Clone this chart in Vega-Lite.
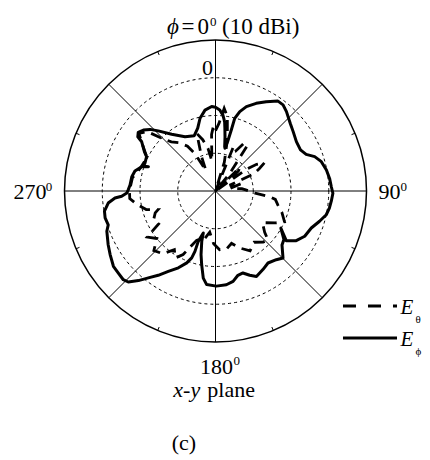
{
  "$schema": "https://vega.github.io/schema/vega-lite/v6.json",
  "width": 430,
  "height": 460,
  "padding": 0,
  "autosize": {"type": "none"},
  "background": "white",
  "config": {"view": {"stroke": null}},
  "datasets": {
    "rings": [{"dB": -20}, {"dB": -10}, {"dB": 0}],
    "outer": [{"dB": 10}],
    "spokes": [{"angle": 0}, {"angle": 45}, {"angle": 90}, {"angle": 135}, {"angle": 180}, {"angle": 225}, {"angle": 270}, {"angle": 315}],
    "ticks": [{"angle": 22.5}, {"angle": 67.5}, {"angle": 112.5}, {"angle": 157.5}, {"angle": 202.5}, {"angle": 247.5}, {"angle": 292.5}, {"angle": 337.5}],
    "legend": [{"pol": "theta"}, {"pol": "phi"}],
    "labels": [
      {"t": "ϕ", "ux": -9.67, "uy": 41.72, "fs": 23, "g": "ir"},
      {"t": "=", "ux": -7.28, "uy": 41.72, "fs": 23, "g": "nc"},
      {"t": "0", "ux": -1.72, "uy": 41.72, "fs": 23, "g": "nr"},
      {"t": "0", "ux": -1.46, "uy": 43.71, "fs": 13, "g": "nl"},
      {"t": "(10 dBi)", "ux": 1.72, "uy": 41.72, "fs": 23, "g": "nl"},
      {"t": "0", "ux": -0.66, "uy": 30.73, "fs": 22, "g": "nr"},
      {"t": "90", "ux": 43.18, "uy": -2.12, "fs": 22, "g": "nl"},
      {"t": "0", "ux": 49.01, "uy": 0.0, "fs": 13, "g": "nl"},
      {"t": "270", "ux": -53.51, "uy": -2.25, "fs": 22, "g": "nl"},
      {"t": "0", "ux": -44.98, "uy": -0.13, "fs": 13, "g": "nl"},
      {"t": "180", "ux": -4.11, "uy": -48.48, "fs": 22, "g": "nl"},
      {"t": "0", "ux": 4.77, "uy": -46.09, "fs": 13, "g": "nl"},
      {"t": "x-y", "ux": -11.18, "uy": -54.65, "fs": 22, "g": "il"},
      {"t": "plane", "ux": -2.17, "uy": -54.65, "fs": 22, "g": "nl"},
      {"t": "(c)", "ux": -11.6, "uy": -68.6, "fs": 22, "g": "nl"},
      {"t": "E", "ux": 49.01, "uy": -32.58, "fs": 21, "g": "il"},
      {"t": "θ", "ux": 52.98, "uy": -34.97, "fs": 11, "g": "nl"},
      {"t": "E", "ux": 49.01, "uy": -41.06, "fs": 21, "g": "il"},
      {"t": "ϕ", "ux": 52.98, "uy": -43.44, "fs": 11, "g": "nl"}
    ],
    "ephi": [
      {"i": 0, "angle": 0, "dB": -7.8}, {"i": 1, "angle": 3, "dB": -8.5}, {"i": 2, "angle": 5.6, "dB": -9.8}, {"i": 3, "angle": 7.5, "dB": -11.5},
      {"i": 4, "angle": 8.5, "dB": -13.2}, {"i": 5, "angle": 10, "dB": -15.5}, {"i": 6, "angle": 11.7, "dB": -18}, {"i": 7, "angle": 12.5, "dB": -18.4},
      {"i": 8, "angle": 13.8, "dB": -16.5}, {"i": 9, "angle": 14.5, "dB": -13.3}, {"i": 10, "angle": 14.8, "dB": -10.1}, {"i": 11, "angle": 17, "dB": -8.0},
      {"i": 12, "angle": 20.1, "dB": -6.2}, {"i": 13, "angle": 24.9, "dB": -4.4}, {"i": 14, "angle": 29.6, "dB": -2.8}, {"i": 15, "angle": 34.8, "dB": -1.0},
      {"i": 16, "angle": 38.1, "dB": -1.0}, {"i": 17, "angle": 41.8, "dB": -1.8}, {"i": 18, "angle": 47.9, "dB": -3.3}, {"i": 19, "angle": 52.6, "dB": -4.1},
      {"i": 20, "angle": 58.6, "dB": -4.9}, {"i": 21, "angle": 64.2, "dB": -5.0}, {"i": 22, "angle": 68, "dB": -4.1}, {"i": 23, "angle": 70.9, "dB": -2.2},
      {"i": 24, "angle": 74.5, "dB": -0.9}, {"i": 25, "angle": 79.3, "dB": -0.1}, {"i": 26, "angle": 83.7, "dB": 0.4}, {"i": 27, "angle": 87.9, "dB": 0.7},
      {"i": 28, "angle": 91.1, "dB": 1.1}, {"i": 29, "angle": 94.9, "dB": 0.8}, {"i": 30, "angle": 98.5, "dB": 0.5}, {"i": 31, "angle": 102.1, "dB": 0.0},
      {"i": 32, "angle": 106.2, "dB": -1.3}, {"i": 33, "angle": 111.1, "dB": -2.8}, {"i": 34, "angle": 116.9, "dB": -3.5}, {"i": 35, "angle": 121.6, "dB": -4.9},
      {"i": 36, "angle": 125.1, "dB": -7.1}, {"i": 37, "angle": 119.6, "dB": -10.1}, {"i": 38, "angle": 125.3, "dB": -7.8}, {"i": 39, "angle": 129.1, "dB": -7.3},
      {"i": 40, "angle": 134.8, "dB": -4.8}, {"i": 41, "angle": 138.5, "dB": -5.7}, {"i": 42, "angle": 143.9, "dB": -6.4}, {"i": 43, "angle": 148.9, "dB": -5.7},
      {"i": 44, "angle": 154.4, "dB": -4.9}, {"i": 45, "angle": 157.9, "dB": -5.9}, {"i": 46, "angle": 161.5, "dB": -7.1}, {"i": 47, "angle": 165.1, "dB": -6.9},
      {"i": 48, "angle": 169, "dB": -5.6}, {"i": 49, "angle": 173.4, "dB": -5.0}, {"i": 50, "angle": 179.5, "dB": -4.8}, {"i": 51, "angle": 185.4, "dB": -5.1},
      {"i": 52, "angle": 188, "dB": -6.7}, {"i": 53, "angle": 190.6, "dB": -10.1}, {"i": 54, "angle": 192.8, "dB": -12.7}, {"i": 55, "angle": 195.3, "dB": -16.2},
      {"i": 56, "angle": 196.2, "dB": -18.4}, {"i": 57, "angle": 198.9, "dB": -15.9}, {"i": 58, "angle": 198.8, "dB": -13.1}, {"i": 59, "angle": 199.6, "dB": -11.2},
      {"i": 60, "angle": 201.8, "dB": -9.5}, {"i": 61, "angle": 205.8, "dB": -7.4}, {"i": 62, "angle": 210.4, "dB": -5.3}, {"i": 63, "angle": 214.2, "dB": -3.0},
      {"i": 64, "angle": 217.7, "dB": -0.9}, {"i": 65, "angle": 220.7, "dB": 1.3}, {"i": 66, "angle": 223.8, "dB": 3.4}, {"i": 67, "angle": 226.1, "dB": 3.9},
      {"i": 68, "angle": 229.8, "dB": 3.7}, {"i": 69, "angle": 233.6, "dB": 3.6}, {"i": 70, "angle": 238.9, "dB": 2.6}, {"i": 71, "angle": 243.4, "dB": 1.8},
      {"i": 72, "angle": 249.7, "dB": 0.7}, {"i": 73, "angle": 252.5, "dB": -0.2}, {"i": 74, "angle": 256.3, "dB": 0.1}, {"i": 75, "angle": 259.7, "dB": -0.1},
      {"i": 76, "angle": 263.6, "dB": -1.4}, {"i": 77, "angle": 266, "dB": -3.3}, {"i": 78, "angle": 266.8, "dB": -5.1}, {"i": 79, "angle": 268.7, "dB": -6.5},
      {"i": 80, "angle": 270.9, "dB": -6.9}, {"i": 81, "angle": 274, "dB": -7.3}, {"i": 82, "angle": 279.7, "dB": -7.5}, {"i": 83, "angle": 284, "dB": -8.0},
      {"i": 84, "angle": 288.2, "dB": -9.4}, {"i": 85, "angle": 289.9, "dB": -11.1}, {"i": 86, "angle": 289, "dB": -9.7}, {"i": 87, "angle": 291.4, "dB": -9.9},
      {"i": 88, "angle": 296.5, "dB": -9.6}, {"i": 89, "angle": 298.9, "dB": -8.5}, {"i": 90, "angle": 303.7, "dB": -6.5}, {"i": 91, "angle": 304.9, "dB": -4.9},
      {"i": 92, "angle": 307.2, "dB": -4.3}, {"i": 93, "angle": 310.2, "dB": -5.0}, {"i": 94, "angle": 313.3, "dB": -6.2}, {"i": 95, "angle": 316.4, "dB": -8.0},
      {"i": 96, "angle": 322.3, "dB": -11.0}, {"i": 97, "angle": 330.7, "dB": -13.5}, {"i": 98, "angle": 339, "dB": -14.3}, {"i": 99, "angle": 344.2, "dB": -12.7},
      {"i": 100, "angle": 348, "dB": -10.3}, {"i": 101, "angle": 352.6, "dB": -8.4}, {"i": 102, "angle": 357.4, "dB": -7.6}, {"i": 103, "angle": 360, "dB": -7.8}
    ],
    "etheta": [
      {"i": 0, "angle": 0, "dB": -14}, {"i": 1, "angle": 3, "dB": -12}, {"i": 2, "angle": 6, "dB": -8}, {"i": 3, "angle": 9, "dB": -10},
      {"i": 4, "angle": 13, "dB": -16}, {"i": 5, "angle": 17, "dB": -22}, {"i": 6, "angle": 20, "dB": -30}, {"i": 7, "angle": 22, "dB": -17},
      {"i": 8, "angle": 27, "dB": -18}, {"i": 9, "angle": 31, "dB": -15}, {"i": 10, "angle": 35, "dB": -15.5}, {"i": 11, "angle": 39, "dB": -24},
      {"i": 12, "angle": 42, "dB": -30}, {"i": 13, "angle": 46, "dB": -21}, {"i": 14, "angle": 49, "dB": -22}, {"i": 15, "angle": 52, "dB": -30},
      {"i": 16, "angle": 55, "dB": -20}, {"i": 17, "angle": 57, "dB": -17}, {"i": 18, "angle": 60, "dB": -15}, {"i": 19, "angle": 63, "dB": -17},
      {"i": 20, "angle": 66, "dB": -19}, {"i": 21, "angle": 68, "dB": -26}, {"i": 22, "angle": 71, "dB": -25}, {"i": 23, "angle": 74, "dB": -23},
      {"i": 24, "angle": 80, "dB": -26}, {"i": 25, "angle": 85, "dB": -23}, {"i": 26, "angle": 88, "dB": -22}, {"i": 27, "angle": 93, "dB": -19.5},
      {"i": 28, "angle": 96, "dB": -15.6}, {"i": 29, "angle": 98, "dB": -14}, {"i": 30, "angle": 103, "dB": -13}, {"i": 31, "angle": 108, "dB": -11.5},
      {"i": 32, "angle": 114, "dB": -10}, {"i": 33, "angle": 118, "dB": -12}, {"i": 34, "angle": 124, "dB": -15}, {"i": 35, "angle": 130, "dB": -13},
      {"i": 36, "angle": 133, "dB": -11}, {"i": 37, "angle": 137, "dB": -11.5}, {"i": 38, "angle": 143, "dB": -13}, {"i": 39, "angle": 150, "dB": -11.7},
      {"i": 40, "angle": 157, "dB": -13.6}, {"i": 41, "angle": 163, "dB": -15.5}, {"i": 42, "angle": 169, "dB": -14.4}, {"i": 43, "angle": 176, "dB": -14.4},
      {"i": 44, "angle": 182, "dB": -16}, {"i": 45, "angle": 188, "dB": -19}, {"i": 46, "angle": 193, "dB": -17}, {"i": 47, "angle": 196, "dB": -17},
      {"i": 48, "angle": 201, "dB": -16}, {"i": 49, "angle": 207, "dB": -11.1}, {"i": 50, "angle": 211, "dB": -9.3}, {"i": 51, "angle": 215, "dB": -11},
      {"i": 52, "angle": 220, "dB": -8.3}, {"i": 53, "angle": 226, "dB": -7.3}, {"i": 54, "angle": 231, "dB": -10}, {"i": 55, "angle": 236, "dB": -8.2},
      {"i": 56, "angle": 240, "dB": -12.6}, {"i": 57, "angle": 245, "dB": -11.9}, {"i": 58, "angle": 250, "dB": -13}, {"i": 59, "angle": 252, "dB": -14},
      {"i": 60, "angle": 255, "dB": -11}, {"i": 61, "angle": 260, "dB": -9}, {"i": 62, "angle": 265, "dB": -7.2}, {"i": 63, "angle": 270, "dB": -7.2},
      {"i": 64, "angle": 279, "dB": -7.7}, {"i": 65, "angle": 287, "dB": -9.2}, {"i": 66, "angle": 296, "dB": -9.8}, {"i": 67, "angle": 303, "dB": -6.8},
      {"i": 68, "angle": 307, "dB": -4.6}, {"i": 69, "angle": 311, "dB": -6.0}, {"i": 70, "angle": 314, "dB": -9.6}, {"i": 71, "angle": 318, "dB": -12.5},
      {"i": 72, "angle": 323, "dB": -14}, {"i": 73, "angle": 328, "dB": -16}, {"i": 74, "angle": 331, "dB": -18.6}, {"i": 75, "angle": 335, "dB": -24},
      {"i": 76, "angle": 338, "dB": -20}, {"i": 77, "angle": 342, "dB": -14}, {"i": 78, "angle": 346, "dB": -16}, {"i": 79, "angle": 350, "dB": -18.5},
      {"i": 80, "angle": 353, "dB": -22}, {"i": 81, "angle": 356, "dB": -15}, {"i": 82, "angle": 358, "dB": -13}, {"i": 83, "angle": 360, "dB": -14}
    ]
  },
  "layer": [
    {
      "data": {"name": "rings"},
      "transform": [{"calculate": "datum.dB + 30", "as": "r"}, {"calculate": "0", "as": "cx"}],
      "mark": {"type": "point", "shape": "circle", "filled": false, "stroke": "black", "strokeWidth": 1, "strokeDash": [3, 3], "opacity": 1},
      "encoding": {
        "x": {"field": "cx", "type": "quantitative", "scale": {"domain": [-57.09, 56.82], "nice": false, "zero": false}, "axis": null},
        "y": {"field": "cx", "type": "quantitative", "scale": {"domain": [-71.26, 50.6], "nice": false, "zero": false}, "axis": null},
        "size": {"field": "r", "type": "quantitative", "scale": {"type": "pow", "exponent": 2, "domain": [0, 40], "range": [0, 91204]}, "legend": null}
      }
    },
    {
      "data": {"name": "outer"},
      "transform": [{"calculate": "datum.dB + 30", "as": "r"}, {"calculate": "0", "as": "cx"}],
      "mark": {"type": "point", "shape": "circle", "filled": false, "stroke": "black", "strokeWidth": 1.5, "opacity": 1},
      "encoding": {
        "x": {"field": "cx", "type": "quantitative", "scale": {"domain": [-57.09, 56.82], "nice": false, "zero": false}, "axis": null},
        "y": {"field": "cx", "type": "quantitative", "scale": {"domain": [-71.26, 50.6], "nice": false, "zero": false}, "axis": null},
        "size": {"field": "r", "type": "quantitative", "scale": {"type": "pow", "exponent": 2, "domain": [0, 40], "range": [0, 91204]}, "legend": null}
      }
    },
    {
      "data": {"name": "spokes"},
      "transform": [
        {"calculate": "0", "as": "cx"},
        {"calculate": "40 * sin(datum.angle * PI / 180)", "as": "ex"},
        {"calculate": "40 * cos(datum.angle * PI / 180)", "as": "ey"}
      ],
      "mark": {"type": "rule", "color": "black", "strokeWidth": 1},
      "encoding": {
        "x": {"field": "cx", "type": "quantitative", "scale": {"domain": [-57.09, 56.82], "nice": false, "zero": false}, "axis": null},
        "y": {"field": "cx", "type": "quantitative", "scale": {"domain": [-71.26, 50.6], "nice": false, "zero": false}, "axis": null},
        "x2": {"field": "ex"},
        "y2": {"field": "ey"}
      }
    },
    {
      "data": {"name": "ticks"},
      "transform": [
        {"calculate": "39 * sin(datum.angle * PI / 180)", "as": "sx"},
        {"calculate": "39 * cos(datum.angle * PI / 180)", "as": "sy"},
        {"calculate": "40 * sin(datum.angle * PI / 180)", "as": "ex"},
        {"calculate": "40 * cos(datum.angle * PI / 180)", "as": "ey"}
      ],
      "mark": {"type": "rule", "color": "black", "strokeWidth": 1},
      "encoding": {
        "x": {"field": "sx", "type": "quantitative", "scale": {"domain": [-57.09, 56.82], "nice": false, "zero": false}, "axis": null},
        "y": {"field": "sy", "type": "quantitative", "scale": {"domain": [-71.26, 50.6], "nice": false, "zero": false}, "axis": null},
        "x2": {"field": "ex"},
        "y2": {"field": "ey"}
      }
    },
    {
      "data": {"name": "etheta"},
      "transform": [
        {"calculate": "max(0, datum.dB + 30)", "as": "r"},
        {"calculate": "datum.r * sin(datum.angle * PI / 180)", "as": "px"},
        {"calculate": "datum.r * cos(datum.angle * PI / 180)", "as": "py"}
      ],
      "mark": {"type": "line", "color": "black", "strokeWidth": 2.8, "strokeDash": [11, 7], "interpolate": "linear"},
      "encoding": {
        "x": {"field": "px", "type": "quantitative", "scale": {"domain": [-57.09, 56.82], "nice": false, "zero": false}, "axis": null},
        "y": {"field": "py", "type": "quantitative", "scale": {"domain": [-71.26, 50.6], "nice": false, "zero": false}, "axis": null},
        "order": {"field": "i", "type": "quantitative"}
      }
    },
    {
      "data": {"name": "ephi"},
      "transform": [
        {"calculate": "max(0, datum.dB + 30)", "as": "r"},
        {"calculate": "datum.r * sin(datum.angle * PI / 180)", "as": "px"},
        {"calculate": "datum.r * cos(datum.angle * PI / 180)", "as": "py"}
      ],
      "mark": {"type": "line", "color": "black", "strokeWidth": 3, "interpolate": "linear", "strokeJoin": "round", "strokeCap": "round"},
      "encoding": {
        "x": {"field": "px", "type": "quantitative", "scale": {"domain": [-57.09, 56.82], "nice": false, "zero": false}, "axis": null},
        "y": {"field": "py", "type": "quantitative", "scale": {"domain": [-71.26, 50.6], "nice": false, "zero": false}, "axis": null},
        "order": {"field": "i", "type": "quantitative"}
      }
    },
    {
      "data": {"name": "legend"},
      "transform": [
        {"filter": "datum.pol == 'theta'"},
        {"calculate": "33.77", "as": "lx"},
        {"calculate": "48.08", "as": "lx2"},
        {"calculate": "-30.46", "as": "ly"}
      ],
      "mark": {"type": "rule", "color": "black", "strokeWidth": 2.8, "strokeDash": [13, 12]},
      "encoding": {
        "x": {"field": "lx", "type": "quantitative", "scale": {"domain": [-57.09, 56.82], "nice": false, "zero": false}, "axis": null},
        "x2": {"field": "lx2"},
        "y": {"field": "ly", "type": "quantitative", "scale": {"domain": [-71.26, 50.6], "nice": false, "zero": false}, "axis": null}
      }
    },
    {
      "data": {"name": "legend"},
      "transform": [
        {"filter": "datum.pol == 'phi'"},
        {"calculate": "33.77", "as": "lx"},
        {"calculate": "48.08", "as": "lx2"},
        {"calculate": "-38.94", "as": "ly"}
      ],
      "mark": {"type": "rule", "color": "black", "strokeWidth": 2.8},
      "encoding": {
        "x": {"field": "lx", "type": "quantitative", "scale": {"domain": [-57.09, 56.82], "nice": false, "zero": false}, "axis": null},
        "x2": {"field": "lx2"},
        "y": {"field": "ly", "type": "quantitative", "scale": {"domain": [-71.26, 50.6], "nice": false, "zero": false}, "axis": null}
      }
    },
    {
      "data": {"name": "labels"},
      "transform": [{"filter": "datum.g == 'nl'"}],
      "mark": {"type": "text", "font": "Liberation Serif", "baseline": "alphabetic", "align": "left", "color": "black"},
      "encoding": {
        "x": {"field": "ux", "type": "quantitative", "scale": {"domain": [-57.09, 56.82], "nice": false, "zero": false}, "axis": null},
        "y": {"field": "uy", "type": "quantitative", "scale": {"domain": [-71.26, 50.6], "nice": false, "zero": false}, "axis": null},
        "text": {"field": "t"},
        "size": {"field": "fs", "type": "quantitative", "scale": null}
      }
    },
    {
      "data": {"name": "labels"},
      "transform": [{"filter": "datum.g == 'nr'"}],
      "mark": {"type": "text", "font": "Liberation Serif", "baseline": "alphabetic", "align": "right", "color": "black"},
      "encoding": {
        "x": {"field": "ux", "type": "quantitative", "scale": {"domain": [-57.09, 56.82], "nice": false, "zero": false}, "axis": null},
        "y": {"field": "uy", "type": "quantitative", "scale": {"domain": [-71.26, 50.6], "nice": false, "zero": false}, "axis": null},
        "text": {"field": "t"},
        "size": {"field": "fs", "type": "quantitative", "scale": null}
      }
    },
    {
      "data": {"name": "labels"},
      "transform": [{"filter": "datum.g == 'nc'"}],
      "mark": {"type": "text", "font": "Liberation Serif", "baseline": "alphabetic", "align": "center", "color": "black"},
      "encoding": {
        "x": {"field": "ux", "type": "quantitative", "scale": {"domain": [-57.09, 56.82], "nice": false, "zero": false}, "axis": null},
        "y": {"field": "uy", "type": "quantitative", "scale": {"domain": [-71.26, 50.6], "nice": false, "zero": false}, "axis": null},
        "text": {"field": "t"},
        "size": {"field": "fs", "type": "quantitative", "scale": null}
      }
    },
    {
      "data": {"name": "labels"},
      "transform": [{"filter": "datum.g == 'il'"}],
      "mark": {"type": "text", "font": "Liberation Serif", "baseline": "alphabetic", "align": "left", "fontStyle": "italic", "color": "black"},
      "encoding": {
        "x": {"field": "ux", "type": "quantitative", "scale": {"domain": [-57.09, 56.82], "nice": false, "zero": false}, "axis": null},
        "y": {"field": "uy", "type": "quantitative", "scale": {"domain": [-71.26, 50.6], "nice": false, "zero": false}, "axis": null},
        "text": {"field": "t"},
        "size": {"field": "fs", "type": "quantitative", "scale": null}
      }
    },
    {
      "data": {"name": "labels"},
      "transform": [{"filter": "datum.g == 'ir'"}],
      "mark": {"type": "text", "font": "Liberation Serif", "baseline": "alphabetic", "align": "right", "fontStyle": "italic", "color": "black"},
      "encoding": {
        "x": {"field": "ux", "type": "quantitative", "scale": {"domain": [-57.09, 56.82], "nice": false, "zero": false}, "axis": null},
        "y": {"field": "uy", "type": "quantitative", "scale": {"domain": [-71.26, 50.6], "nice": false, "zero": false}, "axis": null},
        "text": {"field": "t"},
        "size": {"field": "fs", "type": "quantitative", "scale": null}
      }
    }
  ]
}
